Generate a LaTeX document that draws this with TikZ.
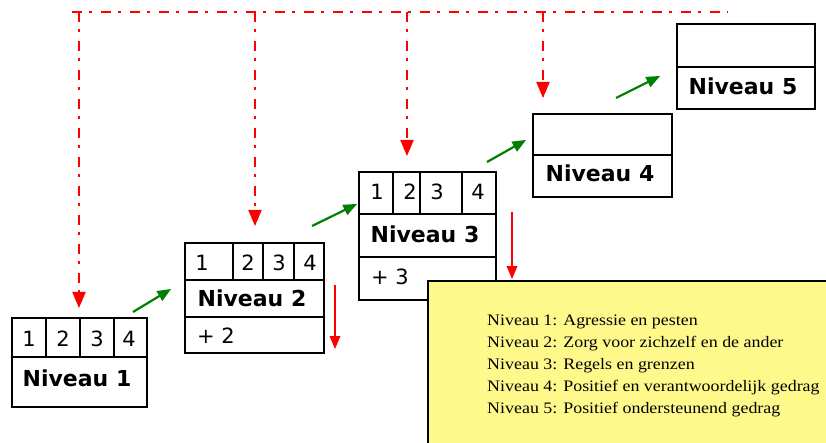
\documentclass[tikz,border=0pt]{standalone}
\usepackage{fontspec}
\setmainfont{Liberation Serif}
\setsansfont{DejaVu Sans}
\newfontfamily\keyfont[FakeStretch=1.12]{Liberation Serif}
\usetikzlibrary{arrows}

\begin{document}
\begin{tikzpicture}[x=1pt,y=-1pt,
  levelbox/.style={draw,line width=2.5pt,fill=white,inner sep=0pt,outer sep=0pt,anchor=north west},
  divider/.style={line width=1.2pt},
  num/.style={font=\sffamily\fontsize{21}{24}\selectfont,inner sep=0pt},
  title/.style={font=\sffamily\bfseries\fontsize{22}{24}\selectfont,inner sep=0pt},
  jumpline/.style={red,line width=2.8pt,dash pattern=on 10pt off 7pt on 3pt off 9pt},
  growarrow/.style={green!50!black,line width=2.2pt,-triangle 45},
  droparrow/.style={red,line width=2pt,-triangle 45},
  legend/.style={draw,line width=2pt,fill=yellow!45,anchor=north west,inner sep=0pt,outer sep=0pt},
  item/.style={font=\keyfont\fontsize{16}{22}\selectfont,inner sep=0pt,anchor=base west}]
\useasboundingbox (0,0) rectangle (826,443);
\clip (0,0) rectangle (826,443);

% levels
\node[levelbox,minimum width=135pt,minimum height=89pt] (lv1) at (12,318) {};
\node[levelbox,minimum width=139pt,minimum height=110pt] (lv2) at (185,243) {};
\node[levelbox,minimum width=137pt,minimum height=128pt] (lv3) at (359,172) {};
\node[levelbox,minimum width=139pt,minimum height=83pt] (lv4) at (533,114) {};
\node[levelbox,minimum width=138pt,minimum height=85pt] (lv5) at (677,24) {};

% cells
\draw[divider] (12,357) -- (147,357);
\foreach \x in {46,80,114} \draw[divider] (\x,318) -- (\x,357);
\draw[divider] (185,280) -- (324,280) (185,317) -- (324,317);
\foreach \x in {233,263,294} \draw[divider] (\x,243) -- (\x,280);
\draw[divider] (359,214) -- (496,214) (359,257) -- (496,257);
\foreach \x in {393,420,462} \draw[divider] (\x,172) -- (\x,214);
\draw[divider] (533,155) -- (672,155);
\draw[divider] (677,67) -- (815,67);

\foreach \x [count=\i] in {29,63,97,129} \node[num] (lv1n\i) at (\x,339) {\i};
\foreach \x [count=\i] in {202,248,279,310} \node[num] (lv2n\i) at (\x,263) {\i};
\foreach \x [count=\i] in {377,410,437,478} \node[num] (lv3n\i) at (\x,192) {\i};

\node[title] (lv1t) at (77,378) {Niveau 1};
\node[title] (lv2t) at (252,298) {Niveau 2};
\node[title] (lv3t) at (425,234) {Niveau 3};
\node[title] (lv4t) at (600,173) {Niveau 4};
\node[title] (lv5t) at (743,86) {Niveau 5};
\node[num,anchor=west] (lv2p) at (197,336) {+ 2};
\node[num,anchor=west] (lv3p) at (371,277) {+ 3};

% steps up
\coordinate (g1a) at (133,312); \coordinate (g1b) at (171,289);
\coordinate (g2a) at (312,226); \coordinate (g2b) at (357,204);
\coordinate (g3a) at (487,162); \coordinate (g3b) at (526,140);
\coordinate (g4a) at (616,98);  \coordinate (g4b) at (660,76);
\foreach \i in {1,...,4} \draw[growarrow] (g\i a) -- (g\i b);

% steps down
\coordinate (d2a) at (335,285); \coordinate (d2b) at (335,349);
\coordinate (d3a) at (512,212); \coordinate (d3b) at (512,279);
\draw[droparrow] (d2a) -- (d2b);
\draw[droparrow] (d3a) -- (d3b);

% jumps from the top
\coordinate (top0) at (72,12); \coordinate (top5) at (728,12);
\draw[jumpline] (top0) -- (top5);
\foreach \x/\y [count=\i] in {79/308,255/226,407/156,543/98} {
  \coordinate (top\i) at (\x,12);
  \coordinate (hit\i) at (\x,\y);
  \draw[jumpline,-triangle 45] (top\i) -- (hit\i);
}

% legend
\node[legend,minimum width=410pt,minimum height=175pt] (key) at (428,281) {};
\foreach \txt [count=\i] in {Agressie en pesten,Zorg voor zichzelf en de ander,Regels en grenzen,Positief en verantwoordelijk gedrag,Positief ondersteunend gedrag}
  \node[item] (key\i) at (487,{325+22*(\i-1)}) {Niveau \i: \txt};
\end{tikzpicture}
\end{document}
